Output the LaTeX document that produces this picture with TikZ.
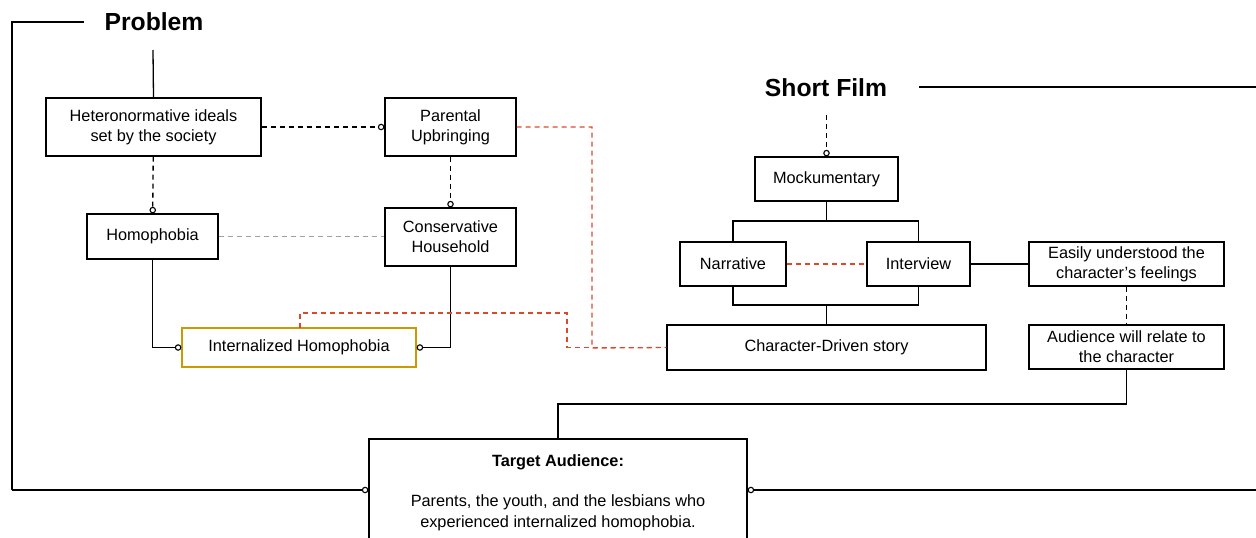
\documentclass[tikz,border=0pt]{standalone}
\usepackage{fontspec}
\setmainfont{Liberation Sans}
\usetikzlibrary{arrows.meta}

\begin{document}
\begin{tikzpicture}[
x=1pt,y=-1pt,
mybox/.style={
  draw,
  line width=1.3pt,
  align=center,
  inner sep=2pt,
  font=\fontsize{16.3}{20}\selectfont
  },
mytitle/.style={font=\fontsize{24.7}{28}\selectfont\bfseries},
conn/.style={line width=1.3pt},
dconn/.style={line width=1.3pt,dash pattern=on 5pt off 4pt},
rconn/.style={dconn,draw={rgb,255:red,221;green,72;blue,42}},
gconn/.style={dconn,draw={rgb,255:red,160;green,160;blue,160}},
tip/.style={-{Circle[open,length=6.5pt,width=6.5pt,line width=1.1pt]}}
]
\useasboundingbox (0,0) rectangle (1256,538);
\clip (0,0) rectangle (1256,538);
% titles
\node[mytitle] (prob) at (154,22) {Problem};
\node[mytitle] (film) at (826,88) {Short Film};
% problem side
\node[mybox,minimum width=215pt,minimum height=58pt] (hetero) at (153.5,127) {Heteronormative ideals\\set by the society};
\node[mybox,minimum width=131pt,minimum height=58pt] (parent) at (450.5,127) {Parental\\Upbringing};
\node[mybox,minimum width=131pt,minimum height=45pt] (homo) at (152.5,236.5) {Homophobia};
\node[mybox,minimum width=131pt,minimum height=58pt] (conserv) at (450.5,237) {Conservative\\Household};
\node[mybox,minimum width=234pt,minimum height=39pt,draw={rgb,255:red,204;green,153;blue,0}] (inter) at (299,347.5) {Internalized Homophobia};
% film side
\node[mybox,minimum width=143pt,minimum height=44pt] (mock) at (826.5,179) {Mockumentary};
\node[mybox,minimum width=106pt,minimum height=44pt] (narr) at (733,264) {Narrative};
\node[mybox,minimum width=103pt,minimum height=44pt] (intv) at (918.5,264) {Interview};
\node[mybox,minimum width=195pt,minimum height=44pt] (easy) at (1126.5,264) {Easily understood the\\character’s feelings};
\node[mybox,minimum width=319pt,minimum height=45pt] (chardrv) at (826.5,347.5) {Character-Driven story};
\node[mybox,minimum width=195pt,minimum height=44pt] (relate) at (1126.5,347) {Audience will relate to\\the character};
% target audience
\node[mybox,minimum width=378pt,minimum height=140pt] (target) at (558,509) {};
\node[font=\fontsize{16.3}{21}\selectfont,align=center,anchor=north] (targettxt) at ([yshift=-13pt]target.north)
  {\textbf{Target Audience:}\\[19pt]Parents, the youth, and the lesbians who\\experienced internalized homophobia.};
\coordinate (rightA) at (1256,87);
\coordinate (rightB) at (1256,490);

\draw[conn] (84,22) -- (12,22) |- (12,490) coordinate (pl);
\draw[conn,tip] (pl) -- (target.west |- pl);
\draw[conn] (153,50) -- (hetero.north);
\draw[dconn,tip] (hetero) -- (parent);
\draw[dconn,tip] (hetero) -- (homo);
\draw[dconn,tip] (parent) -- (conserv);
\draw[gconn] (homo) -- (conserv.west |- homo);
\draw[conn,tip] (homo.south) |- (inter.west);
\draw[conn,tip] (conserv.south) |- (inter.east);
\draw[rconn] (parent.east) -| (592,348) -- (chardrv.west);
\draw[rconn] (300,328) |- (567,313) |- (chardrv.west);

\draw[conn] (919,87) -- (rightA);
\draw[dconn,tip] (826.5,115) -- (mock.north);
\draw[conn] (mock.south) -- (826.5,221) coordinate (split);
\draw[conn] (narr.north) |- (split) -| (intv.north);
\draw[conn] (narr.south) |- (826.5,305) coordinate (join) -| (intv.south);
\draw[conn] (join) -- (chardrv.north);
\draw[rconn] (narr) -- (intv);
\draw[conn] (intv) -- (easy);
\draw[dconn] (easy) -- (relate);
\draw[conn] (relate.south) |- (558,404) -- (target.north);
\draw[conn,tip] (rightB) -- (target.east |- rightB);
\end{tikzpicture}
\end{document}
